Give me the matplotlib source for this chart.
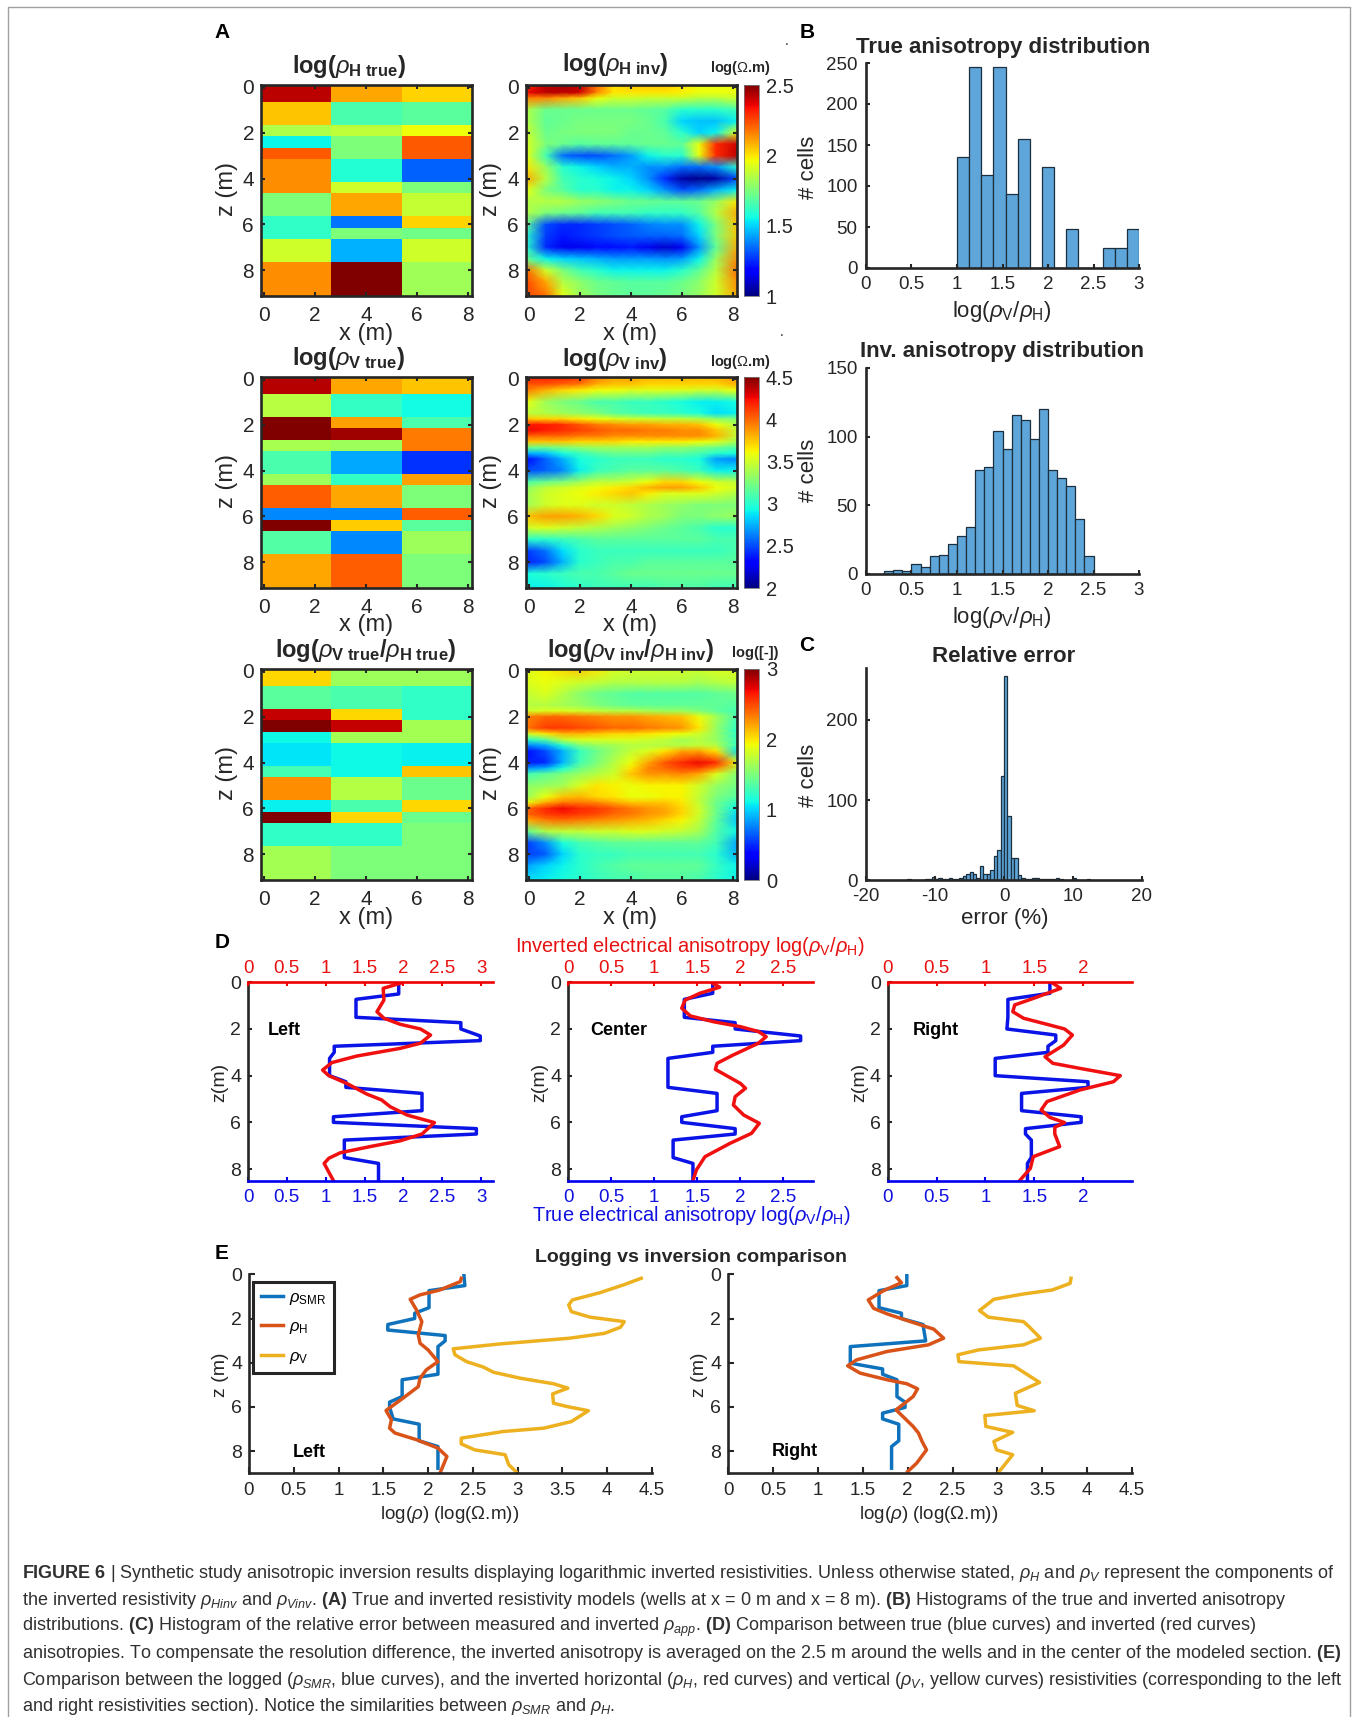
import matplotlib
matplotlib.use("Agg")
import matplotlib.pyplot as plt
from matplotlib.lines import Line2D
import numpy as np

W, H = 1357, 1717

plt.rcParams["font.family"] = ["Liberation Sans", "DejaVu Sans"]
plt.rcParams["mathtext.fontset"] = "custom"
plt.rcParams["mathtext.rm"] = "Liberation Sans"
plt.rcParams["mathtext.it"] = "Liberation Sans:italic"
plt.rcParams["mathtext.bf"] = "Liberation Sans:bold"
plt.rcParams["axes.unicode_minus"] = False

DARK = "#262626"
TEXT = "#262626"

# true models: layer edges (m) and values per column
layer_edges = [-0.1, 0.65, 1.65, 2.15, 2.65, 3.15, 4.15, 4.65, 5.65, 6.15, 6.65, 7.65, 9.2]
col_edges = [-0.1, 2.65, 5.4, 8.2]

h_true_left = [2.42, 2.05, 1.84, 1.55, 2.22, 2.14, 2.14, 1.75, 1.61, 1.61, 1.9, 2.14]
h_true_center = [2.1, 1.66, 1.87, 1.75, 1.75, 1.59, 1.9, 2.1, 1.36, 1.75, 1.45, 2.5]
h_true_right = [2.03, 1.69, 1.96, 2.22, 2.22, 1.33, 1.75, 1.88, 2.03, 1.73, 1.9, 1.82]

v_true_left = [4.38, 3.43, 4.5, 4.5, 3.38, 3.1, 3.35, 4.03, 2.65, 4.5, 3.13, 3.83]
v_true_center = [3.83, 3.03, 3.85, 4.43, 3.35, 2.73, 3.03, 3.83, 2.65, 3.73, 2.65, 4.03]
v_true_right = [3.75, 2.93, 3.1, 3.95, 3.95, 2.43, 3.85, 3.25, 4.03, 3.15, 3.35, 3.25]

r_true_left = [2.04, 1.38, 2.82, 3.0, 1.11, 1.05, 1.29, 2.28, 1.08, 3.0, 1.23, 1.65]
r_true_center = [1.62, 1.32, 2.04, 2.82, 1.65, 1.11, 1.11, 1.71, 1.32, 2.04, 1.23, 1.5]
r_true_right = [1.62, 1.23, 1.23, 1.65, 1.65, 1.08, 2.1, 1.44, 2.04, 1.44, 1.5, 1.5]

# inverted models, read at these x and z positions (m)
inv_x = [-0.1, 0.67, 1.33, 2, 2.67, 3.33, 4, 4.67, 5.33, 6, 6.67, 7.33, 8.2]

h_inv_z = [-0.1, 0.25, 0.5, 1, 1.5, 2, 2.5, 3, 3.5, 4, 4.5, 5, 5.5, 6, 6.5, 7, 7.5, 8, 8.5, 9.2]
h_inv = [
    [2.3, 2.42, 2.45, 2.42, 2.2, 2.0, 2.05, 2.05, 2.05, 2.0, 1.95, 1.95, 1.95],
    [2.35, 2.42, 2.42, 2.4, 2.15, 2.0, 2.0, 2.0, 2.0, 1.98, 1.95, 1.95, 1.95],
    [2.15, 2.15, 2.1, 2.05, 1.95, 1.9, 1.9, 1.88, 1.88, 1.88, 1.85, 1.85, 1.9],
    [1.85, 1.72, 1.72, 1.72, 1.72, 1.72, 1.72, 1.7, 1.68, 1.6, 1.6, 1.6, 1.65],
    [1.85, 1.7, 1.72, 1.74, 1.74, 1.74, 1.74, 1.72, 1.66, 1.5, 1.47, 1.47, 1.55],
    [1.9, 1.72, 1.74, 1.75, 1.75, 1.75, 1.72, 1.72, 1.7, 1.6, 1.5, 1.55, 1.95],
    [1.92, 1.75, 1.72, 1.68, 1.7, 1.7, 1.7, 1.72, 1.72, 1.7, 1.95, 2.3, 2.4],
    [1.95, 1.65, 1.35, 1.3, 1.3, 1.35, 1.42, 1.55, 1.6, 1.6, 1.95, 2.3, 2.42],
    [2.0, 1.8, 1.6, 1.55, 1.5, 1.45, 1.45, 1.4, 1.4, 1.35, 1.35, 1.4, 1.6],
    [2.1, 1.85, 1.65, 1.6, 1.58, 1.55, 1.5, 1.4, 1.25, 1.05, 1.02, 1.05, 1.3],
    [1.95, 1.75, 1.68, 1.6, 1.6, 1.55, 1.55, 1.5, 1.4, 1.3, 1.35, 1.45, 1.55],
    [1.85, 1.85, 1.85, 1.8, 1.78, 1.75, 1.72, 1.72, 1.7, 1.7, 1.72, 1.8, 2.0],
    [1.85, 1.75, 1.72, 1.7, 1.65, 1.65, 1.65, 1.62, 1.62, 1.62, 1.68, 1.85, 2.1],
    [1.7, 1.3, 1.25, 1.25, 1.28, 1.3, 1.33, 1.38, 1.4, 1.4, 1.55, 1.75, 2.05],
    [1.6, 1.28, 1.22, 1.25, 1.27, 1.3, 1.32, 1.33, 1.33, 1.35, 1.5, 1.75, 2.05],
    [1.6, 1.25, 1.15, 1.15, 1.2, 1.2, 1.22, 1.15, 1.1, 1.15, 1.4, 1.7, 2.1],
    [1.72, 1.55, 1.5, 1.48, 1.45, 1.42, 1.42, 1.42, 1.4, 1.42, 1.55, 1.8, 2.15],
    [2.2, 1.9, 1.75, 1.65, 1.6, 1.55, 1.55, 1.55, 1.55, 1.6, 1.7, 1.85, 2.2],
    [2.25, 2.1, 1.85, 1.78, 1.72, 1.7, 1.68, 1.68, 1.68, 1.72, 1.78, 1.9, 2.15],
    [2.25, 2.2, 1.95, 1.82, 1.75, 1.72, 1.7, 1.7, 1.72, 1.75, 1.8, 1.9, 2.1],
]

v_inv_z = [-0.1, 0.25, 0.5, 1, 1.5, 1.75, 2, 2.25, 2.5, 2.75, 3, 3.25, 3.5, 4, 4.5, 4.75, 5, 5.5, 6, 6.5, 7, 7.5, 8, 8.5, 9.2]
v_inv = [
    [4.2, 4.2, 4.2, 4.15, 3.95, 3.85, 3.85, 3.8, 3.8, 3.8, 3.8, 3.8, 3.9],
    [4.05, 4.05, 4.0, 3.95, 3.8, 3.75, 3.75, 3.7, 3.7, 3.7, 3.7, 3.7, 3.8],
    [3.95, 3.8, 3.7, 3.65, 3.6, 3.6, 3.55, 3.55, 3.55, 3.55, 3.5, 3.5, 3.6],
    [3.6, 3.35, 3.25, 3.2, 3.1, 3.1, 3.05, 3.05, 3.0, 2.95, 2.9, 2.9, 2.95],
    [3.45, 3.4, 3.35, 3.3, 3.25, 3.15, 3.1, 3.05, 3.05, 3.0, 2.95, 2.85, 2.9],
    [3.75, 3.7, 3.7, 3.65, 3.6, 3.55, 3.5, 3.5, 3.45, 3.45, 3.4, 3.3, 3.25],
    [4.2, 4.2, 4.15, 4.05, 3.95, 3.9, 3.85, 3.85, 3.8, 3.8, 3.75, 3.6, 3.4],
    [4.25, 4.2, 4.15, 4.1, 4.05, 4.0, 4.0, 3.95, 3.95, 3.9, 3.9, 3.75, 3.45],
    [4.0, 4.0, 4.0, 3.95, 3.95, 3.9, 3.9, 3.9, 3.9, 3.9, 3.9, 3.8, 3.45],
    [3.75, 3.75, 3.75, 3.7, 3.7, 3.7, 3.65, 3.65, 3.65, 3.65, 3.6, 3.55, 3.35],
    [3.2, 3.2, 3.25, 3.3, 3.35, 3.35, 3.35, 3.35, 3.3, 3.3, 3.25, 3.2, 3.1],
    [2.75, 2.8, 2.95, 3.05, 3.15, 3.2, 3.2, 3.2, 3.15, 3.15, 3.1, 3.0, 2.95],
    [2.3, 2.55, 2.75, 2.95, 3.0, 3.05, 3.05, 3.05, 3.0, 3.0, 2.95, 2.7, 2.65],
    [2.5, 2.55, 2.65, 2.9, 3.05, 3.1, 3.15, 3.15, 3.15, 3.1, 3.05, 2.9, 2.9],
    [3.1, 3.2, 3.25, 3.35, 3.45, 3.45, 3.5, 3.6, 3.7, 3.7, 3.6, 3.5, 3.45],
    [3.3, 3.45, 3.5, 3.55, 3.6, 3.65, 3.7, 3.8, 3.85, 3.85, 3.75, 3.6, 3.5],
    [3.35, 3.5, 3.55, 3.6, 3.65, 3.7, 3.75, 3.65, 3.55, 3.55, 3.55, 3.5, 3.4],
    [3.35, 3.5, 3.55, 3.55, 3.5, 3.5, 3.45, 3.4, 3.35, 3.3, 3.25, 3.25, 3.25],
    [3.75, 3.85, 3.85, 3.8, 3.7, 3.55, 3.5, 3.4, 3.35, 3.25, 3.25, 3.3, 3.35],
    [3.5, 3.55, 3.5, 3.45, 3.4, 3.35, 3.3, 3.25, 3.2, 3.15, 3.1, 3.0, 3.0],
    [3.0, 3.0, 3.05, 3.1, 3.15, 3.15, 3.15, 3.15, 3.15, 3.15, 3.15, 3.1, 3.1],
    [2.45, 2.6, 2.85, 3.0, 3.05, 3.05, 3.05, 3.05, 3.05, 3.05, 3.05, 3.05, 3.1],
    [2.4, 2.5, 2.75, 3.0, 3.05, 3.1, 3.1, 3.15, 3.15, 3.15, 3.15, 3.15, 3.15],
    [2.95, 3.0, 3.05, 3.1, 3.1, 3.15, 3.2, 3.2, 3.2, 3.2, 3.2, 3.2, 3.2],
    [2.9, 2.9, 2.95, 3.0, 3.05, 3.05, 3.05, 3.05, 3.1, 3.1, 3.1, 3.05, 3.05],
]

r_inv_z = [-0.1, 0.5, 1, 1.5, 1.75, 2, 2.5, 2.75, 3, 3.25, 3.5, 4, 4.25, 4.5, 5, 5.5, 5.75, 6, 6.25, 6.5, 7, 7.5, 8, 8.5, 9.2]
r_inv = [
    [1.85, 1.95, 2.05, 2.1, 2.0, 1.85, 1.8, 1.8, 1.8, 1.8, 1.8, 1.85, 1.85],
    [1.85, 1.9, 1.85, 1.8, 1.75, 1.7, 1.7, 1.7, 1.7, 1.7, 1.65, 1.7, 1.75],
    [1.75, 1.85, 1.7, 1.55, 1.45, 1.4, 1.35, 1.35, 1.35, 1.35, 1.35, 1.4, 1.45],
    [1.7, 1.7, 1.65, 1.6, 1.5, 1.45, 1.4, 1.4, 1.4, 1.4, 1.4, 1.4, 1.35],
    [1.8, 1.85, 1.85, 1.8, 1.75, 1.7, 1.7, 1.65, 1.6, 1.6, 1.5, 1.4, 1.3],
    [2.3, 2.4, 2.4, 2.35, 2.3, 2.25, 2.25, 2.2, 2.15, 2.1, 1.9, 1.65, 1.3],
    [2.35, 2.55, 2.55, 2.5, 2.45, 2.4, 2.4, 2.35, 2.3, 2.25, 2.0, 1.6, 1.2],
    [1.8, 2.0, 2.15, 2.15, 2.1, 2.05, 2.05, 2.0, 1.95, 1.9, 1.8, 1.6, 1.2],
    [1.2, 1.4, 1.75, 1.85, 1.85, 1.85, 1.85, 1.8, 1.75, 1.65, 1.7, 1.6, 1.25],
    [0.75, 0.9, 1.2, 1.5, 1.6, 1.65, 1.7, 1.7, 1.7, 1.7, 1.75, 1.7, 1.2],
    [0.4, 0.6, 0.9, 1.25, 1.45, 1.6, 1.75, 1.85, 2.0, 2.2, 2.2, 2.0, 1.05],
    [0.45, 0.5, 0.9, 1.3, 1.5, 1.7, 1.9, 2.2, 2.45, 2.6, 2.7, 2.6, 1.9],
    [0.8, 0.9, 1.15, 1.45, 1.6, 1.75, 2.0, 2.3, 2.4, 2.5, 2.5, 2.3, 1.7],
    [1.3, 1.4, 1.5, 1.6, 1.7, 1.8, 2.1, 2.25, 2.25, 2.3, 2.2, 1.85, 1.5],
    [1.55, 1.6, 1.65, 1.85, 2.0, 1.95, 1.9, 1.95, 1.95, 1.95, 1.8, 1.6, 1.45],
    [1.6, 1.9, 2.1, 2.15, 2.05, 2.0, 1.9, 1.9, 1.95, 1.95, 1.75, 1.5, 1.35],
    [1.9, 2.2, 2.35, 2.35, 2.3, 2.2, 2.1, 2.1, 2.1, 2.0, 1.75, 1.45, 1.2],
    [2.4, 2.6, 2.7, 2.6, 2.55, 2.45, 2.35, 2.25, 2.2, 2.05, 1.8, 1.45, 1.1],
    [2.4, 2.55, 2.6, 2.55, 2.5, 2.4, 2.35, 2.25, 2.2, 2.05, 1.8, 1.45, 1.0],
    [2.2, 2.35, 2.4, 2.35, 2.3, 2.25, 2.2, 2.15, 2.05, 1.95, 1.75, 1.4, 0.95],
    [1.4, 1.7, 1.75, 1.75, 1.8, 1.8, 1.85, 1.85, 1.8, 1.75, 1.65, 1.35, 1.1],
    [0.55, 0.8, 1.15, 1.3, 1.35, 1.4, 1.4, 1.4, 1.4, 1.4, 1.4, 1.3, 0.85],
    [0.55, 0.65, 1.0, 1.2, 1.25, 1.25, 1.3, 1.3, 1.3, 1.3, 1.3, 1.2, 0.9],
    [0.85, 1.0, 1.1, 1.2, 1.3, 1.35, 1.4, 1.4, 1.4, 1.4, 1.4, 1.25, 1.1],
    [1.05, 1.1, 1.15, 1.2, 1.25, 1.3, 1.3, 1.35, 1.35, 1.35, 1.3, 1.2, 1.1],
]

# histograms
true_hist_start = 1.0
true_hist_width = 2.0 / 15
true_hist = [135, 245, 113, 245, 90, 157, 0, 123, 0, 47, 0, 0, 24, 24, 47]

inv_hist_start = 0.2
inv_hist_width = 0.1
inv_hist = [2, 3, 2, 7, 5, 13, 14, 22, 28, 34, 76, 78, 104, 91, 116, 112, 98, 120, 76, 70, 64, 40, 13]

err_hist_start = -14.0
err_hist_width = 0.5
err_hist = [1, 0, 0, 0, 0, 1, 1, 4, 1, 3, 1, 1, 2, 1, 1, 3, 5, 8, 10, 7, 3, 18, 8, 8, 13, 30, 37, 130,
            255, 80, 28, 28, 6, 3, 1, 1, 2, 2, 1, 1, 1, 1, 1, 2, 1, 0, 0, 0, 2, 0, 0, 0, 1]

# D: anisotropy logs
d_left_true_x = [1.94, 1.94, 1.39, 1.39, 2.74, 2.74, 2.99, 2.99, 1.11, 1.11, 1.05, 1.05, 1.26, 1.26, 2.24, 2.24,
                 1.1, 1.1, 2.94, 2.94, 1.24, 1.24, 1.68, 1.68]
d_left_true_z = [0.04, 0.5, 0.73, 1.5, 1.73, 2.0, 2.3, 2.5, 2.74, 3.0, 3.26, 4.0, 4.26, 4.5, 4.76, 5.5,
                 5.76, 6.0, 6.27, 6.5, 6.76, 7.51, 7.76, 8.5]
d_left_inv_x = [1.96, 1.74, 1.75, 1.66, 1.75, 1.96, 2.22, 2.35, 2.22, 1.96, 1.4, 1.08, 0.96, 1.04, 1.27, 1.53,
                1.72, 1.83, 2.05, 2.4, 2.24, 1.96, 1.57, 1.19, 1.04, 0.98, 1.1]
d_left_inv_z = [0.04, 0.26, 0.76, 1.26, 1.54, 1.8, 2.0, 2.26, 2.61, 2.83, 3.16, 3.44, 3.76, 4.0, 4.33, 4.79,
                5.04, 5.33, 5.69, 6.01, 6.5, 6.79, 7.04, 7.3, 7.54, 7.76, 8.5]

d_center_true_x = [1.68, 1.68, 1.35, 1.35, 1.94, 1.94, 2.7, 2.7, 1.68, 1.68, 1.16, 1.16, 1.73, 1.73,
                   1.32, 1.32, 1.94, 1.94, 1.22, 1.22, 1.45, 1.45]
d_center_true_z = [0.04, 0.47, 0.73, 1.5, 1.73, 2.0, 2.3, 2.5, 2.74, 3.0, 3.26, 4.5, 4.76, 5.5,
                   5.76, 6.0, 6.27, 6.5, 6.76, 7.51, 7.76, 8.5]
d_center_inv_x = [1.68, 1.76, 1.53, 1.36, 1.32, 1.42, 1.69, 2.0, 2.21, 2.3, 2.21, 1.92, 1.73, 1.71, 1.86, 2.0,
                  2.06, 1.94, 1.92, 2.04, 2.22, 2.13, 1.88, 1.59, 1.49, 1.45]
d_center_inv_z = [0.04, 0.21, 0.47, 0.76, 1.11, 1.44, 1.69, 1.9, 2.11, 2.33, 2.61, 3.11, 3.47, 3.73, 4.04, 4.33,
                  4.54, 4.9, 5.26, 5.69, 6.04, 6.47, 6.9, 7.47, 8.04, 8.5]

d_right_true_x = [1.66, 1.66, 1.23, 1.23, 1.22, 1.72, 1.72, 1.64, 1.64, 1.1, 1.1, 2.05, 2.05, 1.37, 1.37,
                  1.98, 1.98, 1.41, 1.41, 1.47, 1.47, 1.43, 1.43]
d_right_true_z = [0.04, 0.47, 0.73, 1.5, 2.0, 2.26, 2.5, 2.74, 3.0, 3.26, 4.0, 4.26, 4.5, 4.76, 5.5,
                  5.76, 6.0, 6.27, 6.5, 6.76, 7.5, 7.76, 8.5]
d_right_inv_x = [1.69, 1.77, 1.49, 1.3, 1.28, 1.39, 1.63, 1.81, 1.89, 1.8, 1.61, 1.69, 1.97, 2.38, 2.31, 1.97,
                 1.63, 1.57, 1.66, 1.81, 1.71, 1.71, 1.76, 1.49, 1.46, 1.35]
d_right_inv_z = [0.04, 0.26, 0.69, 0.97, 1.26, 1.54, 1.8, 2.0, 2.26, 2.69, 3.19, 3.47, 3.69, 4.0, 4.26, 4.61,
                 5.11, 5.47, 5.79, 6.01, 6.21, 6.5, 7.04, 7.47, 7.97, 8.5]

# E: logging vs inversion
e_left_smr_x = [2.4, 2.41, 2.01, 2.01, 1.85, 1.85, 1.55, 1.55, 2.19, 2.19, 2.11, 2.11, 1.71, 1.71, 1.57, 1.57,
                1.61, 1.9, 1.9, 2.11, 2.11]
e_left_smr_z = [0.03, 0.51, 0.74, 1.51, 1.76, 2.0, 2.27, 2.52, 2.77, 3.01, 3.27, 4.52, 4.77, 5.53, 5.78, 6.02,
                6.54, 6.78, 7.53, 7.79, 8.77]
e_left_h_x = [2.37, 2.36, 2.13, 1.91, 1.8, 1.87, 1.93, 1.89, 1.91, 2.0, 2.11, 1.98, 1.91, 1.89, 1.72, 1.53,
              1.59, 1.57, 1.63, 1.87, 2.11, 2.21, 2.14]
e_left_h_z = [0.18, 0.33, 0.71, 0.93, 1.13, 1.61, 2.14, 2.74, 3.12, 3.42, 3.95, 4.32, 4.7, 5.08, 5.6, 6.16,
              6.58, 6.96, 7.18, 7.48, 7.86, 8.24, 8.92]
e_left_v_x = [4.38, 4.18, 3.92, 3.61, 3.57, 3.6, 3.81, 4.19, 4.15, 3.97, 3.58, 2.8, 2.28, 2.3, 2.43, 2.62, 2.73,
              3.03, 3.4, 3.56, 3.39, 3.4, 3.55, 3.79, 3.6, 3.29, 2.84, 2.37, 2.37, 2.52, 2.86, 2.9, 2.98]
e_left_v_z = [0.18, 0.48, 0.83, 1.16, 1.39, 1.69, 1.94, 2.14, 2.39, 2.67, 2.89, 3.15, 3.37, 3.64, 3.95, 4.2, 4.43,
              4.7, 4.95, 5.15, 5.41, 5.83, 5.98, 6.17, 6.66, 6.96, 7.11, 7.41, 7.67, 7.94, 8.16, 8.61, 8.92]

e_right_smr_x = [1.99, 1.99, 1.68, 1.68, 1.93, 1.93, 2.17, 2.2, 1.36, 1.36, 1.72, 1.72, 1.88, 1.88, 1.97, 1.97,
                 1.72, 1.72, 1.9, 1.9, 1.82, 1.82]
e_right_smr_z = [0.03, 0.51, 0.74, 1.51, 1.76, 2.0, 2.27, 3.01, 3.27, 4.02, 4.28, 4.52, 4.77, 5.53, 5.78, 6.02,
                 6.28, 6.54, 6.78, 7.53, 7.79, 8.77]
e_right_h_x = [1.88, 1.93, 1.73, 1.56, 1.62, 1.77, 2.03, 2.29, 2.4, 2.23, 1.77, 1.43, 1.33, 1.47, 1.77, 1.99,
               2.11, 2.06, 1.87, 2.06, 2.12, 2.16, 2.21, 2.1, 2.0]
e_right_h_z = [0.15, 0.38, 0.74, 1.16, 1.54, 1.79, 2.14, 2.48, 2.89, 3.19, 3.49, 3.87, 4.14, 4.47, 4.77, 4.95,
               5.18, 5.53, 6.13, 6.88, 7.18, 7.56, 7.94, 8.54, 8.92]
e_right_v_x = [3.82, 3.81, 3.61, 3.29, 2.96, 2.8, 2.9, 3.29, 3.35, 3.48, 3.29, 2.79, 2.56, 2.57, 3.18, 3.47, 3.2,
               3.22, 3.41, 2.86, 2.87, 3.17, 2.96, 2.99, 3.17, 3.02]
e_right_v_z = [0.18, 0.41, 0.71, 0.89, 1.13, 1.64, 1.94, 2.14, 2.36, 2.89, 3.19, 3.42, 3.64, 3.95, 4.14, 4.89, 5.38,
               5.93, 6.17, 6.39, 6.88, 7.15, 7.56, 7.94, 8.16, 8.92]

caption_lines = [
    r"$\mathbf{FIGURE\ 6}$ | Synthetic study anisotropic inversion results displaying logarithmic inverted resistivities. Unless otherwise stated, $\rho_{H}$ and $\rho_{V}$ represent the components of",
    r"the inverted resistivity $\rho_{Hinv}$ and $\rho_{Vinv}$. $\mathbf{(A)}$ True and inverted resistivity models (wells at x = 0 m and x = 8 m). $\mathbf{(B)}$ Histograms of the true and inverted anisotropy",
    r"distributions. $\mathbf{(C)}$ Histogram of the relative error between measured and inverted $\rho_{app}$. $\mathbf{(D)}$ Comparison between true (blue curves) and inverted (red curves)",
    r"anisotropies. To compensate the resolution difference, the inverted anisotropy is averaged on the 2.5 m around the wells and in the center of the modeled section. $\mathbf{(E)}$",
    r"Comparison between the logged ($\rho_{SMR}$, blue curves), and the inverted horizontal ($\rho_{H}$, red curves) and vertical ($\rho_{V}$, yellow curves) resistivities (corresponding to the left",
    r"and right resistivities section). Notice the similarities between $\rho_{SMR}$ and $\rho_{H}$.",
]

fig = plt.figure(figsize=(W / 100, H / 100), dpi=100, facecolor="white")


def axes_px(x0, y0, x1, y1):
    return fig.add_axes([x0 / W, 1 - y1 / H, (x1 - x0) / W, (y1 - y0) / H])


def text_px(x, y, s, **kw):
    kw.setdefault("ha", "center")
    kw.setdefault("va", "center")
    kw.setdefault("color", TEXT)
    return fig.text(x / W, 1 - y / H, s, **kw)


# frame around the figure, open at the bottom
fig.add_artist(Line2D([7.5 / W, 7.5 / W, 1350 / W, 1350 / W], [0, 1 - 7.5 / H, 1 - 7.5 / H, 0],
                      transform=fig.transFigure, color="#a0a0a0", linewidth=1.0))

# A: resistivity models
rows = [
    (85, 296, (1, 2.5), [1, 1.5, 2, 2.5], h_true_left, h_true_center, h_true_right, h_inv_z, h_inv,
     r"$\mathbf{log(}\rho_{\mathbf{H\ true}}\mathbf{)}$", r"$\mathbf{log(}\rho_{\mathbf{H\ inv}}\mathbf{)}$",
     r"log($\Omega$.m)", 349, 615, 67, 65, 334),
    (377, 588, (2, 4.5), [2, 2.5, 3, 3.5, 4, 4.5], v_true_left, v_true_center, v_true_right, v_inv_z, v_inv,
     r"$\mathbf{log(}\rho_{\mathbf{V\ true}}\mathbf{)}$", r"$\mathbf{log(}\rho_{\mathbf{V\ inv}}\mathbf{)}$",
     r"log($\Omega$.m)", 349, 615, 358, 359, 625),
    (669, 880, (0, 3), [0, 1, 2, 3], r_true_left, r_true_center, r_true_right, r_inv_z, r_inv,
     r"$\mathbf{log(}\rho_{\mathbf{V\ true}}\mathbf{/}\rho_{\mathbf{H\ true}}\mathbf{)}$",
     r"$\mathbf{log(}\rho_{\mathbf{V\ inv}}\mathbf{/}\rho_{\mathbf{H\ inv}}\mathbf{)}$",
     "log([-])", 366, 630, 650, 650, 918),
]

for y0, y1, clim, cticks, c1, c2, c3, inv_z, inv, t1, t2, unit, tx1, tx2, ty1, ty2, xl_y in rows:
    ax1 = axes_px(261, y0, 472, y1)
    ax2 = axes_px(526, y0, 737, y1)
    true_vals = np.array([c1, c2, c3]).T
    ax1.pcolormesh(col_edges, layer_edges, true_vals, cmap="jet", vmin=clim[0], vmax=clim[1])
    im = ax2.pcolormesh(inv_x, inv_z, np.array(inv), cmap="jet", vmin=clim[0], vmax=clim[1], shading="gouraud")
    for ax in (ax1, ax2):
        ax.set_xlim(-0.1, 8.15)
        ax.set_ylim(9.12, -0.08)
        ax.set_xticks([0, 2, 4, 6, 8])
        ax.set_yticks([0, 2, 4, 6, 8])
        ax.tick_params(direction="in", length=3, width=1.5, top=True, right=True, labelsize=15,
                       pad=7, color=DARK, labelcolor=TEXT)
        ax.tick_params(axis="y", pad=5)
        for s in ax.spines.values():
            s.set_linewidth(1.9)
            s.set_color(DARK)
    cax = axes_px(744, y0, 759, y1)
    cb = fig.colorbar(im, cax=cax)
    cb.set_ticks(cticks)
    cb.set_ticklabels([("%g" % t) for t in cticks])
    cb.ax.tick_params(labelsize=14.5, length=0, pad=5, labelcolor=TEXT)
    cb.outline.set_linewidth(0.6)
    cb.outline.set_edgecolor("#777777")
    text_px(tx1, ty1, t1, fontsize=17)
    text_px(tx2, ty2, t2, fontsize=17)
    text_px(740 if unit != "log([-])" else 755, ty2 + 3, unit, fontsize=10.5, fontweight="bold")
    text_px(366, xl_y, "x (m)", fontsize=17)
    text_px(630, xl_y, "x (m)", fontsize=17)
    text_px(227, (y0 + y1) / 2 - 2, "z (m)", fontsize=17, rotation=90)
    text_px(491, (y0 + y1) / 2 - 2, "z (m)", fontsize=17, rotation=90)

# B, C: histograms
hist_panels = [
    (866, 63, 1139, 268, true_hist_start, true_hist_width, true_hist, (0, 3), (0, 250),
     [0, 0.5, 1, 1.5, 2, 2.5, 3], [0, 50, 100, 150, 200, 250]),
    (866, 368, 1139, 574, inv_hist_start, inv_hist_width, inv_hist, (0, 3), (0, 150),
     [0, 0.5, 1, 1.5, 2, 2.5, 3], [0, 50, 100, 150]),
    (866, 668, 1142, 880, err_hist_start, err_hist_width, err_hist, (-20, 20), (0, 265),
     [-20, -10, 0, 10, 20], [0, 100, 200]),
]
for x0, y0, x1, y1, start, width, counts, xlim, ylim, xt, yt in hist_panels:
    ax = axes_px(x0, y0, x1, y1)
    lefts = [start + i * width for i in range(len(counts))]
    ax.bar(lefts, counts, width=width, align="edge", color="#5ea5d9", edgecolor="#1c2f3e", linewidth=0.9)
    ax.set_xlim(xlim)
    ax.set_ylim(ylim)
    ax.set_xticks(xt)
    ax.set_xticklabels([("%g" % t) for t in xt])
    ax.set_yticks(yt)
    ax.spines["top"].set_visible(False)
    ax.spines["right"].set_visible(False)
    for s in ("left", "bottom"):
        ax.spines[s].set_linewidth(1.9)
        ax.spines[s].set_color(DARK)
    ax.tick_params(direction="in", length=3, width=1.5, labelsize=13.5, pad=6, color=DARK, labelcolor=TEXT)

text_px(1003, 47, "True anisotropy distribution", fontsize=16, fontweight="bold")
text_px(1002, 352, "Inv. anisotropy distribution", fontsize=16, fontweight="bold")
text_px(1004, 657, "Relative error", fontsize=16, fontweight="bold")
text_px(1002, 312, r"log($\rho_{\mathrm{V}}$/$\rho_{\mathrm{H}}$)", fontsize=16)
text_px(1002, 617, r"log($\rho_{\mathrm{V}}$/$\rho_{\mathrm{H}}$)", fontsize=16)
text_px(1005, 918, "error (%)", fontsize=16)
text_px(809, 167, "# cells", fontsize=16, rotation=90)
text_px(809, 470, "# cells", fontsize=16, rotation=90)
text_px(809, 775, "# cells", fontsize=16, rotation=90)

# D: true vs inverted anisotropy
d_panels = [
    (248, 492.7, 3.15, [0, 0.5, 1, 1.5, 2, 2.5, 3], d_left_true_x, d_left_true_z, d_left_inv_x, d_left_inv_z, "Left", 284, 220),
    (568, 812.7, 2.84, [0, 0.5, 1, 1.5, 2, 2.5], d_center_true_x, d_center_true_z, d_center_inv_x, d_center_inv_z, "Center", 619, 540),
    (887.7, 1132, 2.5, [0, 0.5, 1, 1.5, 2], d_right_true_x, d_right_true_z, d_right_inv_x, d_right_inv_z, "Right", 936, 860),
]
for x0, x1, xmax, xt, tx, tz, ix, iz, name, name_x, zl_x in d_panels:
    ax = axes_px(x0, 982.3, x1, 1180.7)
    ax.plot(tx, tz, color="#0a14e6", linewidth=2.5)
    ax.plot(ix, iz, color="#f01010", linewidth=2.5)
    ax.set_xlim(0, xmax)
    ax.set_ylim(8.5, 0)
    ax.set_xticks(xt)
    ax.set_xticklabels([("%g" % t) for t in xt])
    ax.set_yticks([0, 2, 4, 6, 8])
    ax.tick_params(axis="x", direction="in", length=3, width=1.5, labelsize=13.5, pad=6,
                   color="#0000ee", labelcolor="#1010e0", bottom=True, top=False)
    ax.tick_params(axis="y", direction="in", length=3, width=1.5, labelsize=14, pad=5,
                   color=DARK, labelcolor=TEXT)
    ax.spines["right"].set_visible(False)
    ax.spines["left"].set_linewidth(1.9)
    ax.spines["left"].set_color(DARK)
    ax.spines["bottom"].set_linewidth(1.9)
    ax.spines["bottom"].set_color("#0000ee")
    ax.spines["top"].set_linewidth(1.9)
    ax.spines["top"].set_color("#f00000")
    top = ax.twiny()
    top.set_xlim(0, xmax)
    top.set_xticks(xt)
    top.set_xticklabels([("%g" % t) for t in xt])
    top.tick_params(axis="x", direction="in", length=3, width=1.5, labelsize=13.5, pad=4,
                    color="#f00000", labelcolor="#e81010")
    for s in top.spines.values():
        s.set_visible(False)
    text_px(name_x, 1030, name, fontsize=13, fontweight="bold", color="black")
    text_px(zl_x, 1082, "z(m)", fontsize=14, rotation=90)

text_px(690, 946, r"Inverted electrical anisotropy log($\rho_{\mathrm{V}}$/$\rho_{\mathrm{H}}$)", fontsize=14.4, color="#e81010")
text_px(691, 1215, r"True electrical anisotropy log($\rho_{\mathrm{V}}$/$\rho_{\mathrm{H}}$)", fontsize=14.4, color="#1010e0")

# E: logging vs inversion
e_panels = [
    (249, 652, e_left_smr_x, e_left_smr_z, e_left_h_x, e_left_h_z, e_left_v_x, e_left_v_z, "Left", 309, 1452, 221, 450),
    (728.3, 1132, e_right_smr_x, e_right_smr_z, e_right_h_x, e_right_h_z, e_right_v_x, e_right_v_z, "Right", 795, 1451, 700, 929),
]
for i, (x0, x1, sx, sz, hx, hz, vx, vz, name, nx, ny, zx, lx) in enumerate(e_panels):
    ax = axes_px(x0, 1274.3, x1, 1473.3)
    ax.plot(sx, sz, color="#0f72bd", linewidth=2.5, label=r"$\rho_{\mathrm{SMR}}$")
    ax.plot(hx, hz, color="#d95319", linewidth=2.5, label=r"$\rho_{\mathrm{H}}$")
    ax.plot(vx, vz, color="#edb120", linewidth=2.5, label=r"$\rho_{\mathrm{V}}$")
    ax.set_xlim(0, 4.5)
    ax.set_ylim(9, 0)
    ax.set_xticks([0, 0.5, 1, 1.5, 2, 2.5, 3, 3.5, 4, 4.5])
    ax.set_xticklabels(["0", "0.5", "1", "1.5", "2", "2.5", "3", "3.5", "4", "4.5"])
    ax.set_yticks([0, 2, 4, 6, 8])
    ax.spines["top"].set_visible(False)
    ax.spines["right"].set_visible(False)
    for s in ("left", "bottom"):
        ax.spines[s].set_linewidth(1.9)
        ax.spines[s].set_color(DARK)
    ax.tick_params(direction="in", length=4, width=1.5, labelsize=13.5, pad=6, color=DARK, labelcolor=TEXT)
    ax.tick_params(axis="y", labelsize=14, pad=5)
    text_px(nx, ny, name, fontsize=13, fontweight="bold", color="black")
    text_px(zx, 1375, "z (m)", fontsize=14, rotation=90)
    text_px(lx, 1514, r"log($\rho$) (log($\Omega$.m))", fontsize=13.5)
    if i == 0:
        leg = ax.legend(loc="upper left", bbox_to_anchor=(253 / W, 1 - 1282 / H), bbox_transform=fig.transFigure,
                        fontsize=12, frameon=True, fancybox=False, framealpha=1, edgecolor=DARK,
                        handlelength=1.35, handletextpad=0.35, labelspacing=0.75, borderpad=0.45, borderaxespad=0)
        leg.get_frame().set_linewidth(2.2)

text_px(691, 1258, "Logging vs inversion comparison", fontsize=14, fontweight="bold")

# panel letters
for letter, lx, ly in [("A", 222, 32), ("B", 807, 32), ("C", 807, 645), ("D", 222, 942), ("E", 222, 1253)]:
    text_px(lx, ly, letter, fontsize=15, fontweight="bold", color="black")

# stray dots in the scan
text_px(787, 41, ".", fontsize=10)
text_px(782, 332, ".", fontsize=10)

# caption
baselines = [1578, 1605, 1631, 1658, 1685, 1711]
for line, by in zip(caption_lines, baselines):
    text_px(22, by, line, ha="left", va="baseline", fontsize=13.0, color="#303030")

fig.savefig("out.png", dpi=100)
